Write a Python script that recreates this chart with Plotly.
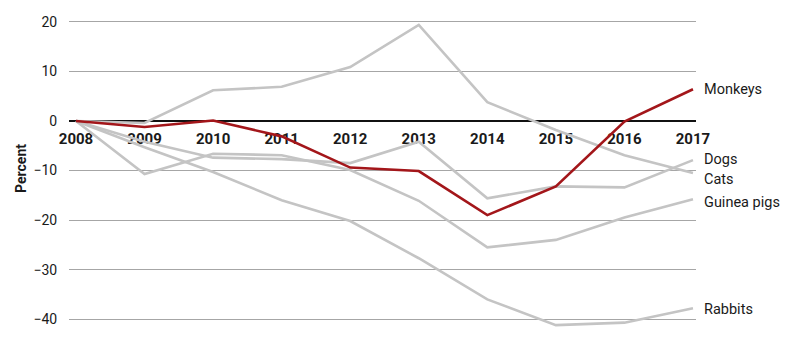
import plotly.graph_objects as go

years = [2008, 2009, 2010, 2011, 2012, 2013, 2014, 2015, 2016, 2017]

monkeys = [0, -1.2, 0.1, -3.1, -9.4, -10.1, -19.0, -13.2, -0.1, 6.4]
dogs = [0, -4.2, -7.4, -7.7, -8.5, -4.2, -15.6, -13.2, -13.4, -7.9]
cats = [0, -0.4, 6.2, 6.9, 10.9, 19.4, 3.8, -1.8, -6.9, -10.5]
guinea_pigs = [0, -10.7, -6.6, -6.9, -9.9, -16.1, -25.5, -24.0, -19.5, -15.8]
rabbits = [0, -5.3, -10.3, -16.0, -20.2, -27.7, -36.0, -41.2, -40.7, -37.8]

y_ticks = [-40, -30, -20, -10, 0, 10, 20]

GREY = "#c4c4c4"
RED = "#a3161a"
TEXT = "#1a1a1a"

# (name, values, colour, vertical nudge of the end label in px)
series = [
    ("Cats", cats, GREY, -6),
    ("Dogs", dogs, GREY, 1),
    ("Guinea pigs", guinea_pigs, GREY, -3),
    ("Rabbits", rabbits, GREY, -1),
    ("Monkeys", monkeys, RED, 0),
]

y_min, y_max = -44, 22

fig = go.Figure()
for name, vals, col, _ in series:
    fig.add_trace(go.Scatter(
        x=years, y=vals, mode="lines", name=name,
        line=dict(color=col, width=2.6), hoverinfo="x+y+name",
    ))

annotations = []
for name, vals, col, dy in series:
    annotations.append(dict(
        x=years[-1], y=vals[-1], xref="x", yref="y",
        text=name, showarrow=False, xanchor="left", yanchor="middle",
        xshift=9, yshift=dy,
        font=dict(family="Roboto", size=14.5, color=TEXT),
    ))
annotations.append(dict(
    x=-0.0766, y=0.523, xref="paper", yref="paper",
    text="<b>Percent</b>", showarrow=False, textangle=-90,
    xanchor="center", yanchor="middle",
    font=dict(family="Roboto", size=14, color=TEXT),
))

fig.update_layout(
    width=800, height=344,
    margin=dict(l=69, r=104, t=12, b=5),
    paper_bgcolor="white", plot_bgcolor="white",
    showlegend=False,
    annotations=annotations,
    xaxis=dict(
        range=[2007.898, 2017.044],
        tickvals=years, ticktext=[f"<b>{y}</b>" for y in years],
        tickfont=dict(family="Roboto", size=15, color=TEXT),
        showgrid=False, zeroline=False,
        showline=True, linecolor="#111111", linewidth=2,
        anchor="free", position=(0 - y_min) / (y_max - y_min),
        ticks="outside", ticklen=4, tickcolor="rgba(0,0,0,0)",
        layer="below traces", fixedrange=True,
    ),
    yaxis=dict(
        range=[y_min, y_max],
        tickvals=y_ticks,
        tickfont=dict(family="Roboto", size=14, color=TEXT),
        showgrid=True, gridcolor="#a6a6a6", gridwidth=1,
        zeroline=False, showline=False,
        ticks="outside", ticklen=8, tickcolor="rgba(0,0,0,0)",
        fixedrange=True,
    ),
)

fig.write_html("out.html")
